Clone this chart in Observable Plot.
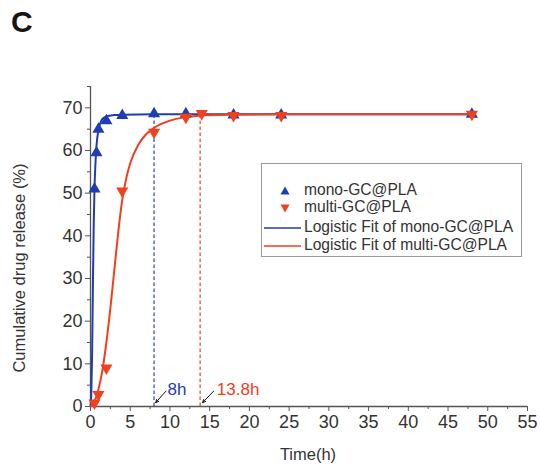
<!DOCTYPE html>
<html><head><meta charset="utf-8">
<script src="https://cdn.jsdelivr.net/npm/d3@7"></script>
<script src="https://cdn.jsdelivr.net/npm/@observablehq/plot@0.6"></script>
<style>
body{margin:0;background:#fff;font-family:"Liberation Sans",Arial,sans-serif;}
#wrap{position:relative;width:540px;height:468px;overflow:hidden;}
#panel{position:absolute;left:11px;top:5px;font-size:30px;font-weight:bold;color:#151515;}
#legend{position:absolute;left:261px;top:163px;width:261px;height:94px;border:1px solid #9a9a9a;box-sizing:border-box;background:#fff;}
.row{position:absolute;left:0;width:100%;height:18px;}
.row svg{position:absolute;left:0;top:0;}
.row span{position:absolute;left:42px;top:-1px;font-size:15.6px;line-height:18px;color:#333;white-space:nowrap;}
#xlabel{position:absolute;left:0;width:616px;top:445px;text-align:center;font-size:16.5px;color:#333;}
#ylabel{position:absolute;left:19px;top:268px;transform:translate(-50%,-50%) rotate(-90deg);font-size:16.5px;color:#333;white-space:nowrap;}
</style>
</head><body>
<div id="wrap">
  <div id="chart"></div>
  <div id="panel">C</div>
  <div id="xlabel">Time(h)</div>
  <div id="ylabel">Cumulative drug release (%)</div>
  <div id="legend"></div>
</div>
<script>
// Measured data
const monoT = [0.5, 0.75, 1, 2, 4, 8, 12, 18, 24, 48];
const monoY = [51, 59.5, 65, 67, 68.2, 68.6, 68.6, 68.3, 68.3, 68.5];
const multiT = [0.5, 1, 2, 4, 8, 12, 14, 18, 24, 48];
const multiY = [0.8, 2.8, 9, 50.5, 64.3, 67.8, 68.7, 68.2, 68.2, 68.5];

// Logistic fit curves
const monoFitT = [0, 0.1, 0.2, 0.3, 0.4, 0.5, 0.6, 0.75, 1, 1.25, 1.5, 2, 3, 4, 8, 48];
const monoFitY = [0, 3, 12, 28, 42, 51, 56, 61, 64.8, 66.5, 67.4, 68, 68.3, 68.4, 68.5, 68.5];
const multiFitT = [0, 0.25, 0.5, 1, 1.5, 2, 2.5, 3, 3.5, 4, 4.5, 5, 6, 7, 8, 10, 12, 14, 18, 24, 48];
const multiFitY = [0, 0.3, 1.2, 4, 8.5, 15, 23, 32, 41, 48.5, 53.5, 57, 61.3, 63.8, 65.3, 67, 67.8, 68.2, 68.4, 68.5, 68.5];

// Annotations
const dropX = [8, 13.8];
const dropTop = [68.5, 68.7];
const annoLabels = ["8h", "13.8h"];
const annoX = [9.7, 15.9];
const annoY = [4, 4];
const arrowFromX = [9.5, 15.5];
const arrowFromY = [3.6, 3.6];
const arrowToX = [8.2, 14.1];
const arrowToY = [0.9, 0.9];

// Axis ticks
const xTicks = [0, 5, 10, 15, 20, 25, 30, 35, 40, 45, 50, 55];
const xMinor = [2.5, 7.5, 12.5, 17.5, 22.5, 27.5, 32.5, 37.5, 42.5, 47.5, 52.5];
const yTicks = [0, 10, 20, 30, 40, 50, 60, 70];
const yMinor = [5, 15, 25, 35, 45, 55, 65, 75];

// Legend
const legendLabels = ["mono-GC@PLA", "multi-GC@PLA", "Logistic Fit of mono-GC@PLA", "Logistic Fit of multi-GC@PLA"];

const BLUE = "#1f3db3", RED = "#f0401e", BLUE_D = "#5b66c6", RED_D = "#f26a4c";

const mono = monoT.map((t, i) => ({t, v: monoY[i]}));
const multi = multiT.map((t, i) => ({t, v: multiY[i]}));
const monoFit = monoFitT.map((t, i) => ({t, v: monoFitY[i]}));
const multiFit = multiFitT.map((t, i) => ({t, v: multiFitY[i]}));
const drops = dropX.map((x, i) => ({x, top: dropTop[i], c: i ? RED_D : BLUE_D}));
const annos = annoLabels.map((s, i) => ({s, x: annoX[i], y: annoY[i], c: i ? RED : BLUE,
  x1: arrowFromX[i], y1: arrowFromY[i], x2: arrowToX[i], y2: arrowToY[i]}));

const chart = Plot.plot({
  width: 540, height: 468,
  marginLeft: 90, marginRight: 13, marginTop: 86, marginBottom: 62,
  x: {domain: [0, 55]},
  y: {domain: [0, 75]},
  style: {fontFamily: "'Liberation Sans', Arial, sans-serif", color: "#333", background: "#fff"},
  marks: [
    Plot.ruleX(drops, {x: "x", y1: 0, y2: "top", stroke: "c", strokeWidth: 1.5, strokeDasharray: "3.5,2.5"}),
    Plot.axisX({ticks: xMinor, tickSize: 3, tickFormat: () => "", label: null, stroke: "#555"}),
    Plot.axisX({ticks: xTicks, tickSize: 5, tickPadding: 4, fontSize: 18, label: null, stroke: "#555"}),
    Plot.axisY({ticks: yMinor, tickSize: 3, tickFormat: () => "", label: null, stroke: "#555"}),
    Plot.axisY({ticks: yTicks, tickSize: 5, tickPadding: 3, fontSize: 18, label: null, stroke: "#555"}),
    Plot.ruleY([0], {stroke: "#555", strokeWidth: 1.3}),
    Plot.ruleX([0], {stroke: "#555", strokeWidth: 1.3}),
    Plot.line(monoFit, {x: "t", y: "v", stroke: BLUE, strokeWidth: 2, curve: "monotone-x"}),
    Plot.line(multiFit, {x: "t", y: "v", stroke: RED, strokeWidth: 2, curve: "monotone-x"}),
    Plot.dot(mono, {x: "t", y: "v", symbol: "triangle", r: 4.5, fill: BLUE, stroke: "none"}),
    Plot.dot(multi, {x: "t", y: "v", symbol: "triangle", rotate: 180, r: 4.5, fill: RED, stroke: "none"}),
    Plot.arrow(annos, {x1: "x1", y1: "y1", x2: "x2", y2: "y2", stroke: "#111", strokeWidth: 1, headLength: 5, headAngle: 50}),
    Plot.text(annos, {x: "x", y: "y", text: "s", fill: "c", fontSize: 17, textAnchor: "start"})
  ]
});
document.getElementById("chart").appendChild(chart);

// Build legend
const legend = document.getElementById("legend");
const rowTops = [18, 35, 55, 73];
legendLabels.forEach((lab, i) => {
  const row = document.createElement("div");
  row.className = "row";
  row.style.top = rowTops[i] + "px";
  const isLine = i >= 2;
  const col = (i % 2 === 0) ? BLUE : RED;
  let sym;
  if (isLine) {
    sym = `<svg width="42" height="18"><line x1="2" x2="39" y1="9" y2="9" stroke="${col}" stroke-width="1.5"/></svg>`;
  } else {
    const tri = i === 0 ? "M23,4.5 L27.5,12.5 L18.5,12.5 Z" : "M23,13.5 L27.5,5.5 L18.5,5.5 Z";
    sym = `<svg width="42" height="18"><path d="${tri}" fill="${col}"/></svg>`;
  }
  row.innerHTML = sym + `<span>${lab}</span>`;
  legend.appendChild(row);
});
</script>
</body></html>
